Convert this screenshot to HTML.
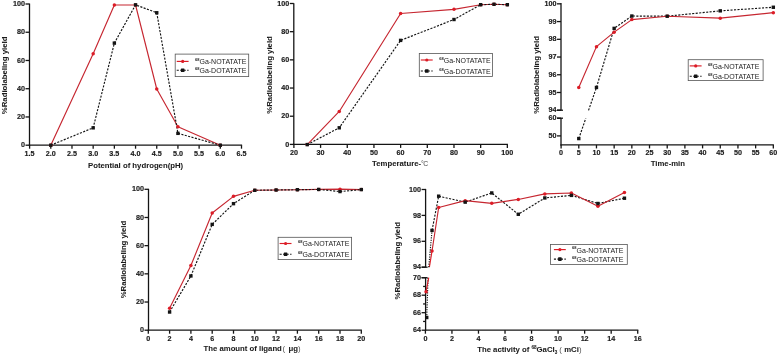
<!DOCTYPE html>
<html><head><meta charset="utf-8"><style>
html,body{margin:0;padding:0;background:#fff;width:778px;height:355px;overflow:hidden}
svg{display:block;will-change:transform;filter:blur(0.3px)}
text{font-family:"Liberation Sans",sans-serif}
text[font-weight="bold"]{stroke:#1a1a1a;stroke-width:0.15px}
text[font-size="7.75"]{stroke-width:0.05px}
</style></head><body>
<svg width="778" height="355" viewBox="0 0 778 355">
<rect width="778" height="355" fill="#fff"/>
<line x1="29.5" y1="3.6" x2="29.5" y2="145.85" stroke="#141414" stroke-width="1.3" />
<line x1="28.85" y1="145.2" x2="242.1" y2="145.2" stroke="#141414" stroke-width="1.3" />
<line x1="25.5" y1="145.2" x2="29.5" y2="145.2" stroke="#141414" stroke-width="1.3" />
<text x="25" y="147.35" text-anchor="end" font-size="7.2" font-weight="bold" fill="#1a1a1a" >0</text>
<line x1="25.5" y1="116.96" x2="29.5" y2="116.96" stroke="#141414" stroke-width="1.3" />
<text x="25" y="119.11" text-anchor="end" font-size="7.2" font-weight="bold" fill="#1a1a1a" >20</text>
<line x1="25.5" y1="88.72" x2="29.5" y2="88.72" stroke="#141414" stroke-width="1.3" />
<text x="25" y="90.87" text-anchor="end" font-size="7.2" font-weight="bold" fill="#1a1a1a" >40</text>
<line x1="25.5" y1="60.48" x2="29.5" y2="60.48" stroke="#141414" stroke-width="1.3" />
<text x="25" y="62.63" text-anchor="end" font-size="7.2" font-weight="bold" fill="#1a1a1a" >60</text>
<line x1="25.5" y1="32.24" x2="29.5" y2="32.24" stroke="#141414" stroke-width="1.3" />
<text x="25" y="34.39" text-anchor="end" font-size="7.2" font-weight="bold" fill="#1a1a1a" >80</text>
<line x1="25.5" y1="4" x2="29.5" y2="4" stroke="#141414" stroke-width="1.3" />
<text x="25" y="6.15" text-anchor="end" font-size="7.2" font-weight="bold" fill="#1a1a1a" >100</text>
<line x1="29.6" y1="145.2" x2="29.6" y2="148.7" stroke="#141414" stroke-width="1.3" />
<text x="29.6" y="155.8" text-anchor="middle" font-size="7.2" font-weight="bold" fill="#1a1a1a" >1.5</text>
<line x1="50.79" y1="145.2" x2="50.79" y2="148.7" stroke="#141414" stroke-width="1.3" />
<text x="50.79" y="155.8" text-anchor="middle" font-size="7.2" font-weight="bold" fill="#1a1a1a" >2.0</text>
<line x1="71.98" y1="145.2" x2="71.98" y2="148.7" stroke="#141414" stroke-width="1.3" />
<text x="71.98" y="155.8" text-anchor="middle" font-size="7.2" font-weight="bold" fill="#1a1a1a" >2.5</text>
<line x1="93.17" y1="145.2" x2="93.17" y2="148.7" stroke="#141414" stroke-width="1.3" />
<text x="93.17" y="155.8" text-anchor="middle" font-size="7.2" font-weight="bold" fill="#1a1a1a" >3.0</text>
<line x1="114.36" y1="145.2" x2="114.36" y2="148.7" stroke="#141414" stroke-width="1.3" />
<text x="114.36" y="155.8" text-anchor="middle" font-size="7.2" font-weight="bold" fill="#1a1a1a" >3.5</text>
<line x1="135.55" y1="145.2" x2="135.55" y2="148.7" stroke="#141414" stroke-width="1.3" />
<text x="135.55" y="155.8" text-anchor="middle" font-size="7.2" font-weight="bold" fill="#1a1a1a" >4.0</text>
<line x1="156.74" y1="145.2" x2="156.74" y2="148.7" stroke="#141414" stroke-width="1.3" />
<text x="156.74" y="155.8" text-anchor="middle" font-size="7.2" font-weight="bold" fill="#1a1a1a" >4.5</text>
<line x1="177.93" y1="145.2" x2="177.93" y2="148.7" stroke="#141414" stroke-width="1.3" />
<text x="177.93" y="155.8" text-anchor="middle" font-size="7.2" font-weight="bold" fill="#1a1a1a" >5.0</text>
<line x1="199.12" y1="145.2" x2="199.12" y2="148.7" stroke="#141414" stroke-width="1.3" />
<text x="199.12" y="155.8" text-anchor="middle" font-size="7.2" font-weight="bold" fill="#1a1a1a" >5.5</text>
<line x1="220.31" y1="145.2" x2="220.31" y2="148.7" stroke="#141414" stroke-width="1.3" />
<text x="220.31" y="155.8" text-anchor="middle" font-size="7.2" font-weight="bold" fill="#1a1a1a" >6.0</text>
<line x1="241.5" y1="145.2" x2="241.5" y2="148.7" stroke="#141414" stroke-width="1.3" />
<text x="241.5" y="155.8" text-anchor="middle" font-size="7.2" font-weight="bold" fill="#1a1a1a" >6.5</text>
<text x="135.6" y="168.4" text-anchor="middle" font-size="7.75" font-weight="bold" fill="#1a1a1a" >Potential of hydrogen(pH)</text>
<text transform="translate(6.6,75.4) rotate(-90)" x="0" y="0" text-anchor="middle" font-size="7.75" font-weight="bold" fill="#1a1a1a">%Radiolabeling yield</text>
<polyline points="50.79,145.2 93.17,53.84 114.36,4.99 135.55,4.99 156.74,89 177.93,126.84 220.31,145.2" fill="none" stroke="#c62630" stroke-width="1.15" stroke-linejoin="round"/>
<polyline points="50.79,145.2 93.17,127.83 114.36,43.11 135.55,4.85 156.74,12.75 177.93,133.34 220.31,145.2" fill="none" stroke="#141414" stroke-width="1.15" stroke-dasharray="2.1 1.4"/>
<circle cx="50.79" cy="145.2" r="1.75" fill="#dc1c26"/>
<circle cx="93.17" cy="53.84" r="1.75" fill="#dc1c26"/>
<circle cx="114.36" cy="4.99" r="1.75" fill="#dc1c26"/>
<circle cx="135.55" cy="4.99" r="1.75" fill="#dc1c26"/>
<circle cx="156.74" cy="89" r="1.75" fill="#dc1c26"/>
<circle cx="177.93" cy="126.84" r="1.75" fill="#dc1c26"/>
<circle cx="220.31" cy="145.2" r="1.75" fill="#dc1c26"/>
<rect x="49.09" y="143.5" width="3.4" height="3.4" fill="#141414"/>
<rect x="91.47" y="126.13" width="3.4" height="3.4" fill="#141414"/>
<rect x="112.66" y="41.41" width="3.4" height="3.4" fill="#141414"/>
<rect x="133.85" y="3.15" width="3.4" height="3.4" fill="#141414"/>
<rect x="155.04" y="11.05" width="3.4" height="3.4" fill="#141414"/>
<rect x="176.23" y="131.64" width="3.4" height="3.4" fill="#141414"/>
<rect x="218.61" y="143.5" width="3.4" height="3.4" fill="#141414"/>
<rect x="175.2" y="54.1" width="73.5" height="22.5" fill="#fff" stroke="#555" stroke-width="0.8"/>
<line x1="176.7" y1="61.4" x2="188.6" y2="61.4" stroke="#dc1c26" stroke-width="1.15" />
<circle cx="182.7" cy="61.4" r="1.6" fill="#dc1c26"/>
<line x1="176.7" y1="70.2" x2="188.6" y2="70.2" stroke="#141414" stroke-width="1.15" stroke-dasharray="2.1 1.4"/>
<rect x="180.9" y="68.4" width="3.6" height="3.6" rx="0.6" fill="#141414"/>
<text x="195" y="64.3" font-size="7.0" fill="#1c1c1c" text-anchor="start"><tspan font-size="4.0" dy="-3.3" font-weight="bold" stroke="none">68</tspan><tspan dy="3.3">Ga-NOTATATE</tspan></text>
<text x="195" y="73.1" font-size="7.0" fill="#1c1c1c" text-anchor="start"><tspan font-size="4.0" dy="-3.3" font-weight="bold" stroke="none">68</tspan><tspan dy="3.3">Ga-DOTATATE</tspan></text>
<line x1="293.8" y1="3.2" x2="293.8" y2="145.05" stroke="#141414" stroke-width="1.3" />
<line x1="293.15" y1="144.4" x2="507.94" y2="144.4" stroke="#141414" stroke-width="1.3" />
<line x1="289.8" y1="144.4" x2="293.8" y2="144.4" stroke="#141414" stroke-width="1.3" />
<text x="289.3" y="146.55" text-anchor="end" font-size="7.2" font-weight="bold" fill="#1a1a1a" >0</text>
<line x1="289.8" y1="116.22" x2="293.8" y2="116.22" stroke="#141414" stroke-width="1.3" />
<text x="289.3" y="118.37" text-anchor="end" font-size="7.2" font-weight="bold" fill="#1a1a1a" >20</text>
<line x1="289.8" y1="88.04" x2="293.8" y2="88.04" stroke="#141414" stroke-width="1.3" />
<text x="289.3" y="90.19" text-anchor="end" font-size="7.2" font-weight="bold" fill="#1a1a1a" >40</text>
<line x1="289.8" y1="59.86" x2="293.8" y2="59.86" stroke="#141414" stroke-width="1.3" />
<text x="289.3" y="62.01" text-anchor="end" font-size="7.2" font-weight="bold" fill="#1a1a1a" >60</text>
<line x1="289.8" y1="31.68" x2="293.8" y2="31.68" stroke="#141414" stroke-width="1.3" />
<text x="289.3" y="33.83" text-anchor="end" font-size="7.2" font-weight="bold" fill="#1a1a1a" >80</text>
<line x1="289.8" y1="3.5" x2="293.8" y2="3.5" stroke="#141414" stroke-width="1.3" />
<text x="289.3" y="5.65" text-anchor="end" font-size="7.2" font-weight="bold" fill="#1a1a1a" >100</text>
<line x1="293.9" y1="144.4" x2="293.9" y2="147.9" stroke="#141414" stroke-width="1.3" />
<text x="293.9" y="155.2" text-anchor="middle" font-size="7.2" font-weight="bold" fill="#1a1a1a" >20</text>
<line x1="320.58" y1="144.4" x2="320.58" y2="147.9" stroke="#141414" stroke-width="1.3" />
<text x="320.58" y="155.2" text-anchor="middle" font-size="7.2" font-weight="bold" fill="#1a1a1a" >30</text>
<line x1="347.26" y1="144.4" x2="347.26" y2="147.9" stroke="#141414" stroke-width="1.3" />
<text x="347.26" y="155.2" text-anchor="middle" font-size="7.2" font-weight="bold" fill="#1a1a1a" >40</text>
<line x1="373.94" y1="144.4" x2="373.94" y2="147.9" stroke="#141414" stroke-width="1.3" />
<text x="373.94" y="155.2" text-anchor="middle" font-size="7.2" font-weight="bold" fill="#1a1a1a" >50</text>
<line x1="400.62" y1="144.4" x2="400.62" y2="147.9" stroke="#141414" stroke-width="1.3" />
<text x="400.62" y="155.2" text-anchor="middle" font-size="7.2" font-weight="bold" fill="#1a1a1a" >60</text>
<line x1="427.3" y1="144.4" x2="427.3" y2="147.9" stroke="#141414" stroke-width="1.3" />
<text x="427.3" y="155.2" text-anchor="middle" font-size="7.2" font-weight="bold" fill="#1a1a1a" >70</text>
<line x1="453.98" y1="144.4" x2="453.98" y2="147.9" stroke="#141414" stroke-width="1.3" />
<text x="453.98" y="155.2" text-anchor="middle" font-size="7.2" font-weight="bold" fill="#1a1a1a" >80</text>
<line x1="480.66" y1="144.4" x2="480.66" y2="147.9" stroke="#141414" stroke-width="1.3" />
<text x="480.66" y="155.2" text-anchor="middle" font-size="7.2" font-weight="bold" fill="#1a1a1a" >90</text>
<line x1="507.34" y1="144.4" x2="507.34" y2="147.9" stroke="#141414" stroke-width="1.3" />
<text x="507.34" y="155.2" text-anchor="middle" font-size="7.2" font-weight="bold" fill="#1a1a1a" >100</text>
<text x="372.1" y="166.2" font-size="7.75" font-weight="bold" fill="#1a1a1a">Temperature-<tspan font-weight="normal" fill="#444" font-size="6.8" letter-spacing="-0.6" stroke="none">°C</tspan></text>
<text transform="translate(272,75) rotate(-90)" x="0" y="0" text-anchor="middle" font-size="7.75" font-weight="bold" fill="#1a1a1a">%Radiolabeling yield</text>
<polyline points="307.24,144.6 339.26,111.44 400.62,13.45 453.98,9.36 480.66,4.71 494,4.28 507.34,4.71" fill="none" stroke="#c62630" stroke-width="1.15" stroke-linejoin="round"/>
<polyline points="307.24,144.6 339.26,127.8 400.62,40.38 453.98,19.51 480.66,4.71 494,4.28 507.34,4.71" fill="none" stroke="#141414" stroke-width="1.15" stroke-dasharray="2.1 1.4"/>
<circle cx="307.24" cy="144.6" r="1.75" fill="#dc1c26"/>
<circle cx="339.26" cy="111.44" r="1.75" fill="#dc1c26"/>
<circle cx="400.62" cy="13.45" r="1.75" fill="#dc1c26"/>
<circle cx="453.98" cy="9.36" r="1.75" fill="#dc1c26"/>
<circle cx="480.66" cy="4.71" r="1.75" fill="#dc1c26"/>
<circle cx="494" cy="4.28" r="1.75" fill="#dc1c26"/>
<circle cx="507.34" cy="4.71" r="1.75" fill="#dc1c26"/>
<rect x="305.54" y="142.9" width="3.4" height="3.4" fill="#141414"/>
<rect x="337.56" y="126.1" width="3.4" height="3.4" fill="#141414"/>
<rect x="398.92" y="38.68" width="3.4" height="3.4" fill="#141414"/>
<rect x="452.28" y="17.81" width="3.4" height="3.4" fill="#141414"/>
<rect x="478.96" y="3.01" width="3.4" height="3.4" fill="#141414"/>
<rect x="492.3" y="2.58" width="3.4" height="3.4" fill="#141414"/>
<rect x="505.64" y="3.01" width="3.4" height="3.4" fill="#141414"/>
<rect x="419.3" y="53.4" width="73.2" height="23.1" fill="#fff" stroke="#555" stroke-width="0.8"/>
<line x1="420.8" y1="60" x2="432.7" y2="60" stroke="#dc1c26" stroke-width="1.15" />
<circle cx="426.8" cy="60" r="1.6" fill="#dc1c26"/>
<line x1="420.8" y1="71" x2="432.7" y2="71" stroke="#141414" stroke-width="1.15" stroke-dasharray="2.1 1.4"/>
<rect x="425" y="69.2" width="3.6" height="3.6" rx="0.6" fill="#141414"/>
<text x="439.3" y="62.9" font-size="7.0" fill="#1c1c1c" text-anchor="start"><tspan font-size="4.0" dy="-3.3" font-weight="bold" stroke="none">68</tspan><tspan dy="3.3">Ga-NOTATATE</tspan></text>
<text x="439.3" y="73.9" font-size="7.0" fill="#1c1c1c" text-anchor="start"><tspan font-size="4.0" dy="-3.3" font-weight="bold" stroke="none">68</tspan><tspan dy="3.3">Ga-DOTATATE</tspan></text>
<line x1="561" y1="3" x2="561" y2="110.22" stroke="#141414" stroke-width="1.3" />
<line x1="561" y1="118.2" x2="561" y2="145.55" stroke="#141414" stroke-width="1.3" />
<line x1="557" y1="110.22" x2="561" y2="110.22" stroke="#141414" stroke-width="1.3" />
<text x="556.5" y="112.37" text-anchor="end" font-size="7.2" font-weight="bold" fill="#1a1a1a" >94</text>
<line x1="557" y1="92.49" x2="561" y2="92.49" stroke="#141414" stroke-width="1.3" />
<text x="556.5" y="94.64" text-anchor="end" font-size="7.2" font-weight="bold" fill="#1a1a1a" >95</text>
<line x1="557" y1="74.76" x2="561" y2="74.76" stroke="#141414" stroke-width="1.3" />
<text x="556.5" y="76.91" text-anchor="end" font-size="7.2" font-weight="bold" fill="#1a1a1a" >96</text>
<line x1="557" y1="57.03" x2="561" y2="57.03" stroke="#141414" stroke-width="1.3" />
<text x="556.5" y="59.18" text-anchor="end" font-size="7.2" font-weight="bold" fill="#1a1a1a" >97</text>
<line x1="557" y1="39.3" x2="561" y2="39.3" stroke="#141414" stroke-width="1.3" />
<text x="556.5" y="41.45" text-anchor="end" font-size="7.2" font-weight="bold" fill="#1a1a1a" >98</text>
<line x1="557" y1="21.57" x2="561" y2="21.57" stroke="#141414" stroke-width="1.3" />
<text x="556.5" y="23.72" text-anchor="end" font-size="7.2" font-weight="bold" fill="#1a1a1a" >99</text>
<line x1="557" y1="3.84" x2="561" y2="3.84" stroke="#141414" stroke-width="1.3" />
<text x="556.5" y="5.99" text-anchor="end" font-size="7.2" font-weight="bold" fill="#1a1a1a" >100</text>
<line x1="557" y1="110.22" x2="563" y2="110.22" stroke="#141414" stroke-width="1.3" />
<line x1="557" y1="118.2" x2="561" y2="118.2" stroke="#141414" stroke-width="1.3" />
<text x="556.5" y="120.35" text-anchor="end" font-size="7.2" font-weight="bold" fill="#1a1a1a" >60</text>
<line x1="557" y1="135.9" x2="561" y2="135.9" stroke="#141414" stroke-width="1.3" />
<text x="556.5" y="138.05" text-anchor="end" font-size="7.2" font-weight="bold" fill="#1a1a1a" >50</text>
<line x1="557" y1="118.2" x2="563" y2="118.2" stroke="#141414" stroke-width="1.3" />
<line x1="560.35" y1="144.9" x2="773.92" y2="144.9" stroke="#141414" stroke-width="1.3" />
<line x1="561.1" y1="144.9" x2="561.1" y2="148.4" stroke="#141414" stroke-width="1.3" />
<text x="561.1" y="155.2" text-anchor="middle" font-size="7.2" font-weight="bold" fill="#1a1a1a" >0</text>
<line x1="578.78" y1="144.9" x2="578.78" y2="148.4" stroke="#141414" stroke-width="1.3" />
<text x="578.78" y="155.2" text-anchor="middle" font-size="7.2" font-weight="bold" fill="#1a1a1a" >5</text>
<line x1="596.47" y1="144.9" x2="596.47" y2="148.4" stroke="#141414" stroke-width="1.3" />
<text x="596.47" y="155.2" text-anchor="middle" font-size="7.2" font-weight="bold" fill="#1a1a1a" >10</text>
<line x1="614.15" y1="144.9" x2="614.15" y2="148.4" stroke="#141414" stroke-width="1.3" />
<text x="614.15" y="155.2" text-anchor="middle" font-size="7.2" font-weight="bold" fill="#1a1a1a" >15</text>
<line x1="631.84" y1="144.9" x2="631.84" y2="148.4" stroke="#141414" stroke-width="1.3" />
<text x="631.84" y="155.2" text-anchor="middle" font-size="7.2" font-weight="bold" fill="#1a1a1a" >20</text>
<line x1="649.52" y1="144.9" x2="649.52" y2="148.4" stroke="#141414" stroke-width="1.3" />
<text x="649.52" y="155.2" text-anchor="middle" font-size="7.2" font-weight="bold" fill="#1a1a1a" >25</text>
<line x1="667.21" y1="144.9" x2="667.21" y2="148.4" stroke="#141414" stroke-width="1.3" />
<text x="667.21" y="155.2" text-anchor="middle" font-size="7.2" font-weight="bold" fill="#1a1a1a" >30</text>
<line x1="684.89" y1="144.9" x2="684.89" y2="148.4" stroke="#141414" stroke-width="1.3" />
<text x="684.89" y="155.2" text-anchor="middle" font-size="7.2" font-weight="bold" fill="#1a1a1a" >35</text>
<line x1="702.58" y1="144.9" x2="702.58" y2="148.4" stroke="#141414" stroke-width="1.3" />
<text x="702.58" y="155.2" text-anchor="middle" font-size="7.2" font-weight="bold" fill="#1a1a1a" >40</text>
<line x1="720.26" y1="144.9" x2="720.26" y2="148.4" stroke="#141414" stroke-width="1.3" />
<text x="720.26" y="155.2" text-anchor="middle" font-size="7.2" font-weight="bold" fill="#1a1a1a" >45</text>
<line x1="737.95" y1="144.9" x2="737.95" y2="148.4" stroke="#141414" stroke-width="1.3" />
<text x="737.95" y="155.2" text-anchor="middle" font-size="7.2" font-weight="bold" fill="#1a1a1a" >50</text>
<line x1="755.63" y1="144.9" x2="755.63" y2="148.4" stroke="#141414" stroke-width="1.3" />
<text x="755.63" y="155.2" text-anchor="middle" font-size="7.2" font-weight="bold" fill="#1a1a1a" >55</text>
<line x1="773.32" y1="144.9" x2="773.32" y2="148.4" stroke="#141414" stroke-width="1.3" />
<text x="773.32" y="155.2" text-anchor="middle" font-size="7.2" font-weight="bold" fill="#1a1a1a" >60</text>
<text x="650.7" y="166.2" text-anchor="start" font-size="7.75" font-weight="bold" fill="#1a1a1a" >Time-min</text>
<text transform="translate(538.6,74.9) rotate(-90)" x="0" y="0" text-anchor="middle" font-size="7.75" font-weight="bold" fill="#1a1a1a">%Radiolabeling yield</text>
<polyline points="578.78,138.56 585.76,118.4" fill="none" stroke="#141414" stroke-width="1.15" stroke-dasharray="2.1 1.4"/>
<polyline points="588.53,110.4 596.47,87.45 614.15,28.38 631.84,16.03 667.21,16.21 720.26,10.84 773.32,7.26" fill="none" stroke="#141414" stroke-width="1.15" stroke-dasharray="2.1 1.4"/>
<polyline points="578.78,87.45 596.47,46.64 614.15,32.14 631.84,19.61 667.21,16.21 720.26,18.18 773.32,12.63" fill="none" stroke="#c62630" stroke-width="1.15" stroke-linejoin="round"/>
<circle cx="578.78" cy="87.45" r="1.75" fill="#dc1c26"/>
<circle cx="596.47" cy="46.64" r="1.75" fill="#dc1c26"/>
<circle cx="614.15" cy="32.14" r="1.75" fill="#dc1c26"/>
<circle cx="631.84" cy="19.61" r="1.75" fill="#dc1c26"/>
<circle cx="667.21" cy="16.21" r="1.75" fill="#dc1c26"/>
<circle cx="720.26" cy="18.18" r="1.75" fill="#dc1c26"/>
<circle cx="773.32" cy="12.63" r="1.75" fill="#dc1c26"/>
<rect x="577.08" y="136.86" width="3.4" height="3.4" fill="#141414"/>
<rect x="594.77" y="85.75" width="3.4" height="3.4" fill="#141414"/>
<rect x="612.45" y="26.68" width="3.4" height="3.4" fill="#141414"/>
<rect x="630.14" y="14.33" width="3.4" height="3.4" fill="#141414"/>
<rect x="665.51" y="14.51" width="3.4" height="3.4" fill="#141414"/>
<rect x="718.56" y="9.14" width="3.4" height="3.4" fill="#141414"/>
<rect x="771.62" y="5.56" width="3.4" height="3.4" fill="#141414"/>
<rect x="688.2" y="59.7" width="74.9" height="20.9" fill="#fff" stroke="#555" stroke-width="0.8"/>
<line x1="689.7" y1="65.9" x2="701.6" y2="65.9" stroke="#dc1c26" stroke-width="1.15" />
<circle cx="695.7" cy="65.9" r="1.6" fill="#dc1c26"/>
<line x1="689.7" y1="76.2" x2="701.6" y2="76.2" stroke="#141414" stroke-width="1.15" stroke-dasharray="2.1 1.4"/>
<rect x="693.9" y="74.4" width="3.6" height="3.6" rx="0.6" fill="#141414"/>
<text x="708" y="68.8" font-size="7.0" fill="#1c1c1c" text-anchor="start"><tspan font-size="4.0" dy="-3.3" font-weight="bold" stroke="none">68</tspan><tspan dy="3.3">Ga-NOTATATE</tspan></text>
<text x="708" y="79.1" font-size="7.0" fill="#1c1c1c" text-anchor="start"><tspan font-size="4.0" dy="-3.3" font-weight="bold" stroke="none">68</tspan><tspan dy="3.3">Ga-DOTATATE</tspan></text>
<line x1="148.5" y1="188.8" x2="148.5" y2="330.85" stroke="#141414" stroke-width="1.3" />
<line x1="147.85" y1="330.2" x2="361.9" y2="330.2" stroke="#141414" stroke-width="1.3" />
<line x1="144.5" y1="330.2" x2="148.5" y2="330.2" stroke="#141414" stroke-width="1.3" />
<text x="144" y="332.35" text-anchor="end" font-size="7.2" font-weight="bold" fill="#1a1a1a" >0</text>
<line x1="144.5" y1="302.02" x2="148.5" y2="302.02" stroke="#141414" stroke-width="1.3" />
<text x="144" y="304.17" text-anchor="end" font-size="7.2" font-weight="bold" fill="#1a1a1a" >20</text>
<line x1="144.5" y1="273.84" x2="148.5" y2="273.84" stroke="#141414" stroke-width="1.3" />
<text x="144" y="275.99" text-anchor="end" font-size="7.2" font-weight="bold" fill="#1a1a1a" >40</text>
<line x1="144.5" y1="245.66" x2="148.5" y2="245.66" stroke="#141414" stroke-width="1.3" />
<text x="144" y="247.81" text-anchor="end" font-size="7.2" font-weight="bold" fill="#1a1a1a" >60</text>
<line x1="144.5" y1="217.48" x2="148.5" y2="217.48" stroke="#141414" stroke-width="1.3" />
<text x="144" y="219.63" text-anchor="end" font-size="7.2" font-weight="bold" fill="#1a1a1a" >80</text>
<line x1="144.5" y1="189.3" x2="148.5" y2="189.3" stroke="#141414" stroke-width="1.3" />
<text x="144" y="191.45" text-anchor="end" font-size="7.2" font-weight="bold" fill="#1a1a1a" >100</text>
<line x1="148.3" y1="330.2" x2="148.3" y2="333.7" stroke="#141414" stroke-width="1.3" />
<text x="148.3" y="340.65" text-anchor="middle" font-size="7.2" font-weight="bold" fill="#1a1a1a" >0</text>
<line x1="169.6" y1="330.2" x2="169.6" y2="333.7" stroke="#141414" stroke-width="1.3" />
<text x="169.6" y="340.65" text-anchor="middle" font-size="7.2" font-weight="bold" fill="#1a1a1a" >2</text>
<line x1="190.9" y1="330.2" x2="190.9" y2="333.7" stroke="#141414" stroke-width="1.3" />
<text x="190.9" y="340.65" text-anchor="middle" font-size="7.2" font-weight="bold" fill="#1a1a1a" >4</text>
<line x1="212.2" y1="330.2" x2="212.2" y2="333.7" stroke="#141414" stroke-width="1.3" />
<text x="212.2" y="340.65" text-anchor="middle" font-size="7.2" font-weight="bold" fill="#1a1a1a" >6</text>
<line x1="233.5" y1="330.2" x2="233.5" y2="333.7" stroke="#141414" stroke-width="1.3" />
<text x="233.5" y="340.65" text-anchor="middle" font-size="7.2" font-weight="bold" fill="#1a1a1a" >8</text>
<line x1="254.8" y1="330.2" x2="254.8" y2="333.7" stroke="#141414" stroke-width="1.3" />
<text x="254.8" y="340.65" text-anchor="middle" font-size="7.2" font-weight="bold" fill="#1a1a1a" >10</text>
<line x1="276.1" y1="330.2" x2="276.1" y2="333.7" stroke="#141414" stroke-width="1.3" />
<text x="276.1" y="340.65" text-anchor="middle" font-size="7.2" font-weight="bold" fill="#1a1a1a" >12</text>
<line x1="297.4" y1="330.2" x2="297.4" y2="333.7" stroke="#141414" stroke-width="1.3" />
<text x="297.4" y="340.65" text-anchor="middle" font-size="7.2" font-weight="bold" fill="#1a1a1a" >14</text>
<line x1="318.7" y1="330.2" x2="318.7" y2="333.7" stroke="#141414" stroke-width="1.3" />
<text x="318.7" y="340.65" text-anchor="middle" font-size="7.2" font-weight="bold" fill="#1a1a1a" >16</text>
<line x1="340" y1="330.2" x2="340" y2="333.7" stroke="#141414" stroke-width="1.3" />
<text x="340" y="340.65" text-anchor="middle" font-size="7.2" font-weight="bold" fill="#1a1a1a" >18</text>
<line x1="361.3" y1="330.2" x2="361.3" y2="333.7" stroke="#141414" stroke-width="1.3" />
<text x="361.3" y="340.65" text-anchor="middle" font-size="7.2" font-weight="bold" fill="#1a1a1a" >20</text>
<text x="203.5" y="351.3" text-anchor="start" font-size="7.75" font-weight="bold" fill="#1a1a1a" >The amount of ligand</text>
<text x="282.6" y="351.3" text-anchor="start" font-size="7.75" font-weight="normal" fill="#555" >(</text>
<text x="288.4" y="351.3" text-anchor="start" font-size="7.75" font-weight="bold" fill="#1a1a1a" >μg</text>
<text x="297.9" y="351.3" text-anchor="start" font-size="7.75" font-weight="normal" fill="#555" >)</text>
<text transform="translate(126.3,259.6) rotate(-90)" x="0" y="0" text-anchor="middle" font-size="7.75" font-weight="bold" fill="#1a1a1a">%Radiolabeling yield</text>
<polyline points="169.6,308.22 190.9,265.53 212.2,212.97 233.5,196.34 254.8,190.29 276.1,190 297.4,189.72 318.7,189.44 340,189.16 361.3,189.58" fill="none" stroke="#c62630" stroke-width="1.15" stroke-linejoin="round"/>
<polyline points="169.6,312.02 190.9,275.95 212.2,224.38 233.5,203.67 254.8,190.29 276.1,190 297.4,189.72 318.7,189.44 340,191.55 361.3,189.58" fill="none" stroke="#141414" stroke-width="1.15" stroke-dasharray="2.1 1.4"/>
<circle cx="169.6" cy="308.22" r="1.75" fill="#dc1c26"/>
<circle cx="190.9" cy="265.53" r="1.75" fill="#dc1c26"/>
<circle cx="212.2" cy="212.97" r="1.75" fill="#dc1c26"/>
<circle cx="233.5" cy="196.34" r="1.75" fill="#dc1c26"/>
<circle cx="254.8" cy="190.29" r="1.75" fill="#dc1c26"/>
<circle cx="276.1" cy="190" r="1.75" fill="#dc1c26"/>
<circle cx="297.4" cy="189.72" r="1.75" fill="#dc1c26"/>
<circle cx="318.7" cy="189.44" r="1.75" fill="#dc1c26"/>
<circle cx="340" cy="189.16" r="1.75" fill="#dc1c26"/>
<circle cx="361.3" cy="189.58" r="1.75" fill="#dc1c26"/>
<rect x="167.9" y="310.32" width="3.4" height="3.4" fill="#141414"/>
<rect x="189.2" y="274.25" width="3.4" height="3.4" fill="#141414"/>
<rect x="210.5" y="222.68" width="3.4" height="3.4" fill="#141414"/>
<rect x="231.8" y="201.97" width="3.4" height="3.4" fill="#141414"/>
<rect x="253.1" y="188.59" width="3.4" height="3.4" fill="#141414"/>
<rect x="274.4" y="188.3" width="3.4" height="3.4" fill="#141414"/>
<rect x="295.7" y="188.02" width="3.4" height="3.4" fill="#141414"/>
<rect x="317" y="187.74" width="3.4" height="3.4" fill="#141414"/>
<rect x="338.3" y="189.85" width="3.4" height="3.4" fill="#141414"/>
<rect x="359.6" y="187.88" width="3.4" height="3.4" fill="#141414"/>
<rect x="278.1" y="237.3" width="73.5" height="22.3" fill="#fff" stroke="#555" stroke-width="0.8"/>
<line x1="279.6" y1="243.5" x2="291.5" y2="243.5" stroke="#dc1c26" stroke-width="1.15" />
<circle cx="285.6" cy="243.5" r="1.6" fill="#dc1c26"/>
<line x1="279.6" y1="254.2" x2="291.5" y2="254.2" stroke="#141414" stroke-width="1.15" stroke-dasharray="2.1 1.4"/>
<rect x="283.8" y="252.4" width="3.6" height="3.6" rx="0.6" fill="#141414"/>
<text x="298" y="246.4" font-size="7.0" fill="#1c1c1c" text-anchor="start"><tspan font-size="4.0" dy="-3.3" font-weight="bold" stroke="none">68</tspan><tspan dy="3.3">Ga-NOTATATE</tspan></text>
<text x="298" y="257.1" font-size="7.0" fill="#1c1c1c" text-anchor="start"><tspan font-size="4.0" dy="-3.3" font-weight="bold" stroke="none">68</tspan><tspan dy="3.3">Ga-DOTATATE</tspan></text>
<line x1="425.6" y1="188.9" x2="425.6" y2="267.2" stroke="#141414" stroke-width="1.3" />
<line x1="425.6" y1="277.7" x2="425.6" y2="330.85" stroke="#141414" stroke-width="1.3" />
<line x1="421.6" y1="267.2" x2="425.6" y2="267.2" stroke="#141414" stroke-width="1.3" />
<text x="421.1" y="269.35" text-anchor="end" font-size="7.2" font-weight="bold" fill="#1a1a1a" >94</text>
<line x1="421.6" y1="241.3" x2="425.6" y2="241.3" stroke="#141414" stroke-width="1.3" />
<text x="421.1" y="243.45" text-anchor="end" font-size="7.2" font-weight="bold" fill="#1a1a1a" >96</text>
<line x1="421.6" y1="215.4" x2="425.6" y2="215.4" stroke="#141414" stroke-width="1.3" />
<text x="421.1" y="217.55" text-anchor="end" font-size="7.2" font-weight="bold" fill="#1a1a1a" >98</text>
<line x1="421.6" y1="189.5" x2="425.6" y2="189.5" stroke="#141414" stroke-width="1.3" />
<text x="421.1" y="191.65" text-anchor="end" font-size="7.2" font-weight="bold" fill="#1a1a1a" >100</text>
<line x1="421.6" y1="267.2" x2="427.6" y2="267.2" stroke="#141414" stroke-width="1.3" />
<line x1="421.6" y1="330.2" x2="425.6" y2="330.2" stroke="#141414" stroke-width="1.3" />
<text x="421.1" y="332.35" text-anchor="end" font-size="7.2" font-weight="bold" fill="#1a1a1a" >64</text>
<line x1="421.6" y1="312.7" x2="425.6" y2="312.7" stroke="#141414" stroke-width="1.3" />
<text x="421.1" y="314.85" text-anchor="end" font-size="7.2" font-weight="bold" fill="#1a1a1a" >66</text>
<line x1="421.6" y1="295.2" x2="425.6" y2="295.2" stroke="#141414" stroke-width="1.3" />
<text x="421.1" y="297.35" text-anchor="end" font-size="7.2" font-weight="bold" fill="#1a1a1a" >68</text>
<line x1="421.6" y1="277.7" x2="425.6" y2="277.7" stroke="#141414" stroke-width="1.3" />
<text x="421.1" y="279.85" text-anchor="end" font-size="7.2" font-weight="bold" fill="#1a1a1a" >70</text>
<line x1="423.1" y1="321.45" x2="425.6" y2="321.45" stroke="#141414" stroke-width="1.3" />
<line x1="423.1" y1="303.95" x2="425.6" y2="303.95" stroke="#141414" stroke-width="1.3" />
<line x1="423.1" y1="286.45" x2="425.6" y2="286.45" stroke="#141414" stroke-width="1.3" />
<line x1="421.6" y1="277.7" x2="427.6" y2="277.7" stroke="#141414" stroke-width="1.3" />
<line x1="424.95" y1="330.2" x2="638.32" y2="330.2" stroke="#141414" stroke-width="1.3" />
<line x1="425.4" y1="330.2" x2="425.4" y2="333.7" stroke="#141414" stroke-width="1.3" />
<text x="425.4" y="340.75" text-anchor="middle" font-size="7.2" font-weight="bold" fill="#1a1a1a" >0</text>
<line x1="451.94" y1="330.2" x2="451.94" y2="333.7" stroke="#141414" stroke-width="1.3" />
<text x="451.94" y="340.75" text-anchor="middle" font-size="7.2" font-weight="bold" fill="#1a1a1a" >2</text>
<line x1="478.48" y1="330.2" x2="478.48" y2="333.7" stroke="#141414" stroke-width="1.3" />
<text x="478.48" y="340.75" text-anchor="middle" font-size="7.2" font-weight="bold" fill="#1a1a1a" >4</text>
<line x1="505.02" y1="330.2" x2="505.02" y2="333.7" stroke="#141414" stroke-width="1.3" />
<text x="505.02" y="340.75" text-anchor="middle" font-size="7.2" font-weight="bold" fill="#1a1a1a" >6</text>
<line x1="531.56" y1="330.2" x2="531.56" y2="333.7" stroke="#141414" stroke-width="1.3" />
<text x="531.56" y="340.75" text-anchor="middle" font-size="7.2" font-weight="bold" fill="#1a1a1a" >8</text>
<line x1="558.1" y1="330.2" x2="558.1" y2="333.7" stroke="#141414" stroke-width="1.3" />
<text x="558.1" y="340.75" text-anchor="middle" font-size="7.2" font-weight="bold" fill="#1a1a1a" >10</text>
<line x1="584.64" y1="330.2" x2="584.64" y2="333.7" stroke="#141414" stroke-width="1.3" />
<text x="584.64" y="340.75" text-anchor="middle" font-size="7.2" font-weight="bold" fill="#1a1a1a" >12</text>
<line x1="611.18" y1="330.2" x2="611.18" y2="333.7" stroke="#141414" stroke-width="1.3" />
<text x="611.18" y="340.75" text-anchor="middle" font-size="7.2" font-weight="bold" fill="#1a1a1a" >14</text>
<line x1="637.72" y1="330.2" x2="637.72" y2="333.7" stroke="#141414" stroke-width="1.3" />
<text x="637.72" y="340.75" text-anchor="middle" font-size="7.2" font-weight="bold" fill="#1a1a1a" >16</text>
<text x="477.2" y="352.0" font-size="7.75" font-weight="bold" fill="#1a1a1a">The activity of <tspan font-size="4.6" dy="-2.6">68</tspan><tspan dy="2.6">GaCl</tspan><tspan font-size="4.6" dy="1.5">3</tspan></text>
<text x="559.2" y="352" text-anchor="start" font-size="7.75" font-weight="normal" fill="#555" >(</text>
<text x="564.2" y="352" text-anchor="start" font-size="7.75" font-weight="bold" fill="#1a1a1a" >mCi</text>
<text x="579" y="352" text-anchor="start" font-size="7.75" font-weight="normal" fill="#555" >)</text>
<text transform="translate(400.4,260.7) rotate(-90)" x="0" y="0" text-anchor="middle" font-size="7.75" font-weight="bold" fill="#1a1a1a">%Radiolabeling yield</text>
<polyline points="432.03,230.4 438.67,196.19 465.21,202.14 491.75,192.95 518.29,214.28 544.83,197.95 571.37,195.39 597.91,203.48 624.45,198.22" fill="none" stroke="#141414" stroke-width="1.15" stroke-dasharray="2.1 1.4"/>
<polyline points="432.03,251 438.67,207.53 465.21,200.65 491.75,203.35 518.29,199.44 544.83,193.9 571.37,192.95 597.91,206.32 624.45,192.55" fill="none" stroke="#c62630" stroke-width="1.15" stroke-linejoin="round"/>
<circle cx="432.03" cy="251" r="1.75" fill="#dc1c26"/>
<circle cx="438.67" cy="207.53" r="1.75" fill="#dc1c26"/>
<circle cx="465.21" cy="200.65" r="1.75" fill="#dc1c26"/>
<circle cx="491.75" cy="203.35" r="1.75" fill="#dc1c26"/>
<circle cx="518.29" cy="199.44" r="1.75" fill="#dc1c26"/>
<circle cx="544.83" cy="193.9" r="1.75" fill="#dc1c26"/>
<circle cx="571.37" cy="192.95" r="1.75" fill="#dc1c26"/>
<circle cx="597.91" cy="206.32" r="1.75" fill="#dc1c26"/>
<circle cx="624.45" cy="192.55" r="1.75" fill="#dc1c26"/>
<rect x="430.33" y="228.7" width="3.4" height="3.4" fill="#141414"/>
<rect x="436.97" y="194.49" width="3.4" height="3.4" fill="#141414"/>
<rect x="463.51" y="200.44" width="3.4" height="3.4" fill="#141414"/>
<rect x="490.05" y="191.25" width="3.4" height="3.4" fill="#141414"/>
<rect x="516.59" y="212.58" width="3.4" height="3.4" fill="#141414"/>
<rect x="543.13" y="196.25" width="3.4" height="3.4" fill="#141414"/>
<rect x="569.67" y="193.69" width="3.4" height="3.4" fill="#141414"/>
<rect x="596.21" y="201.78" width="3.4" height="3.4" fill="#141414"/>
<rect x="622.75" y="196.52" width="3.4" height="3.4" fill="#141414"/>
<polyline points="426.73,317.51 428.05,277.7" fill="none" stroke="#141414" stroke-width="1.15" stroke-dasharray="1.2 1.2"/>
<polyline points="426.06,291.7 428.72,277.7" fill="none" stroke="#dc1c26" stroke-width="1.15"/>
<polyline points="429.38,267.2 432.03,251" fill="none" stroke="#dc1c26" stroke-width="1.15"/>
<polyline points="428.72,267.2 432.03,230.4" fill="none" stroke="#141414" stroke-width="1.15" stroke-dasharray="1.2 1.2"/>
<circle cx="426.06" cy="291.7" r="1.75" fill="#dc1c26"/>
<rect x="425.03" y="315.81" width="3.4" height="3.4" fill="#141414"/>
<rect x="550.4" y="244.5" width="76.9" height="19.9" fill="#fff" stroke="#555" stroke-width="0.8"/>
<line x1="553.9" y1="249.6" x2="565.8" y2="249.6" stroke="#dc1c26" stroke-width="1.15" />
<circle cx="559.9" cy="249.6" r="1.6" fill="#dc1c26"/>
<line x1="553.9" y1="259.1" x2="565.8" y2="259.1" stroke="#141414" stroke-width="1.15" stroke-dasharray="2.1 1.4"/>
<rect x="558.1" y="257.3" width="3.6" height="3.6" rx="0.6" fill="#141414"/>
<text x="572.1" y="252.5" font-size="7.0" fill="#1c1c1c" text-anchor="start"><tspan font-size="4.0" dy="-3.3" font-weight="bold" stroke="none">68</tspan><tspan dy="3.3">Ga-NOTATATE</tspan></text>
<text x="572.1" y="262" font-size="7.0" fill="#1c1c1c" text-anchor="start"><tspan font-size="4.0" dy="-3.3" font-weight="bold" stroke="none">68</tspan><tspan dy="3.3">Ga-DOTATATE</tspan></text>
</svg>
</body></html>
